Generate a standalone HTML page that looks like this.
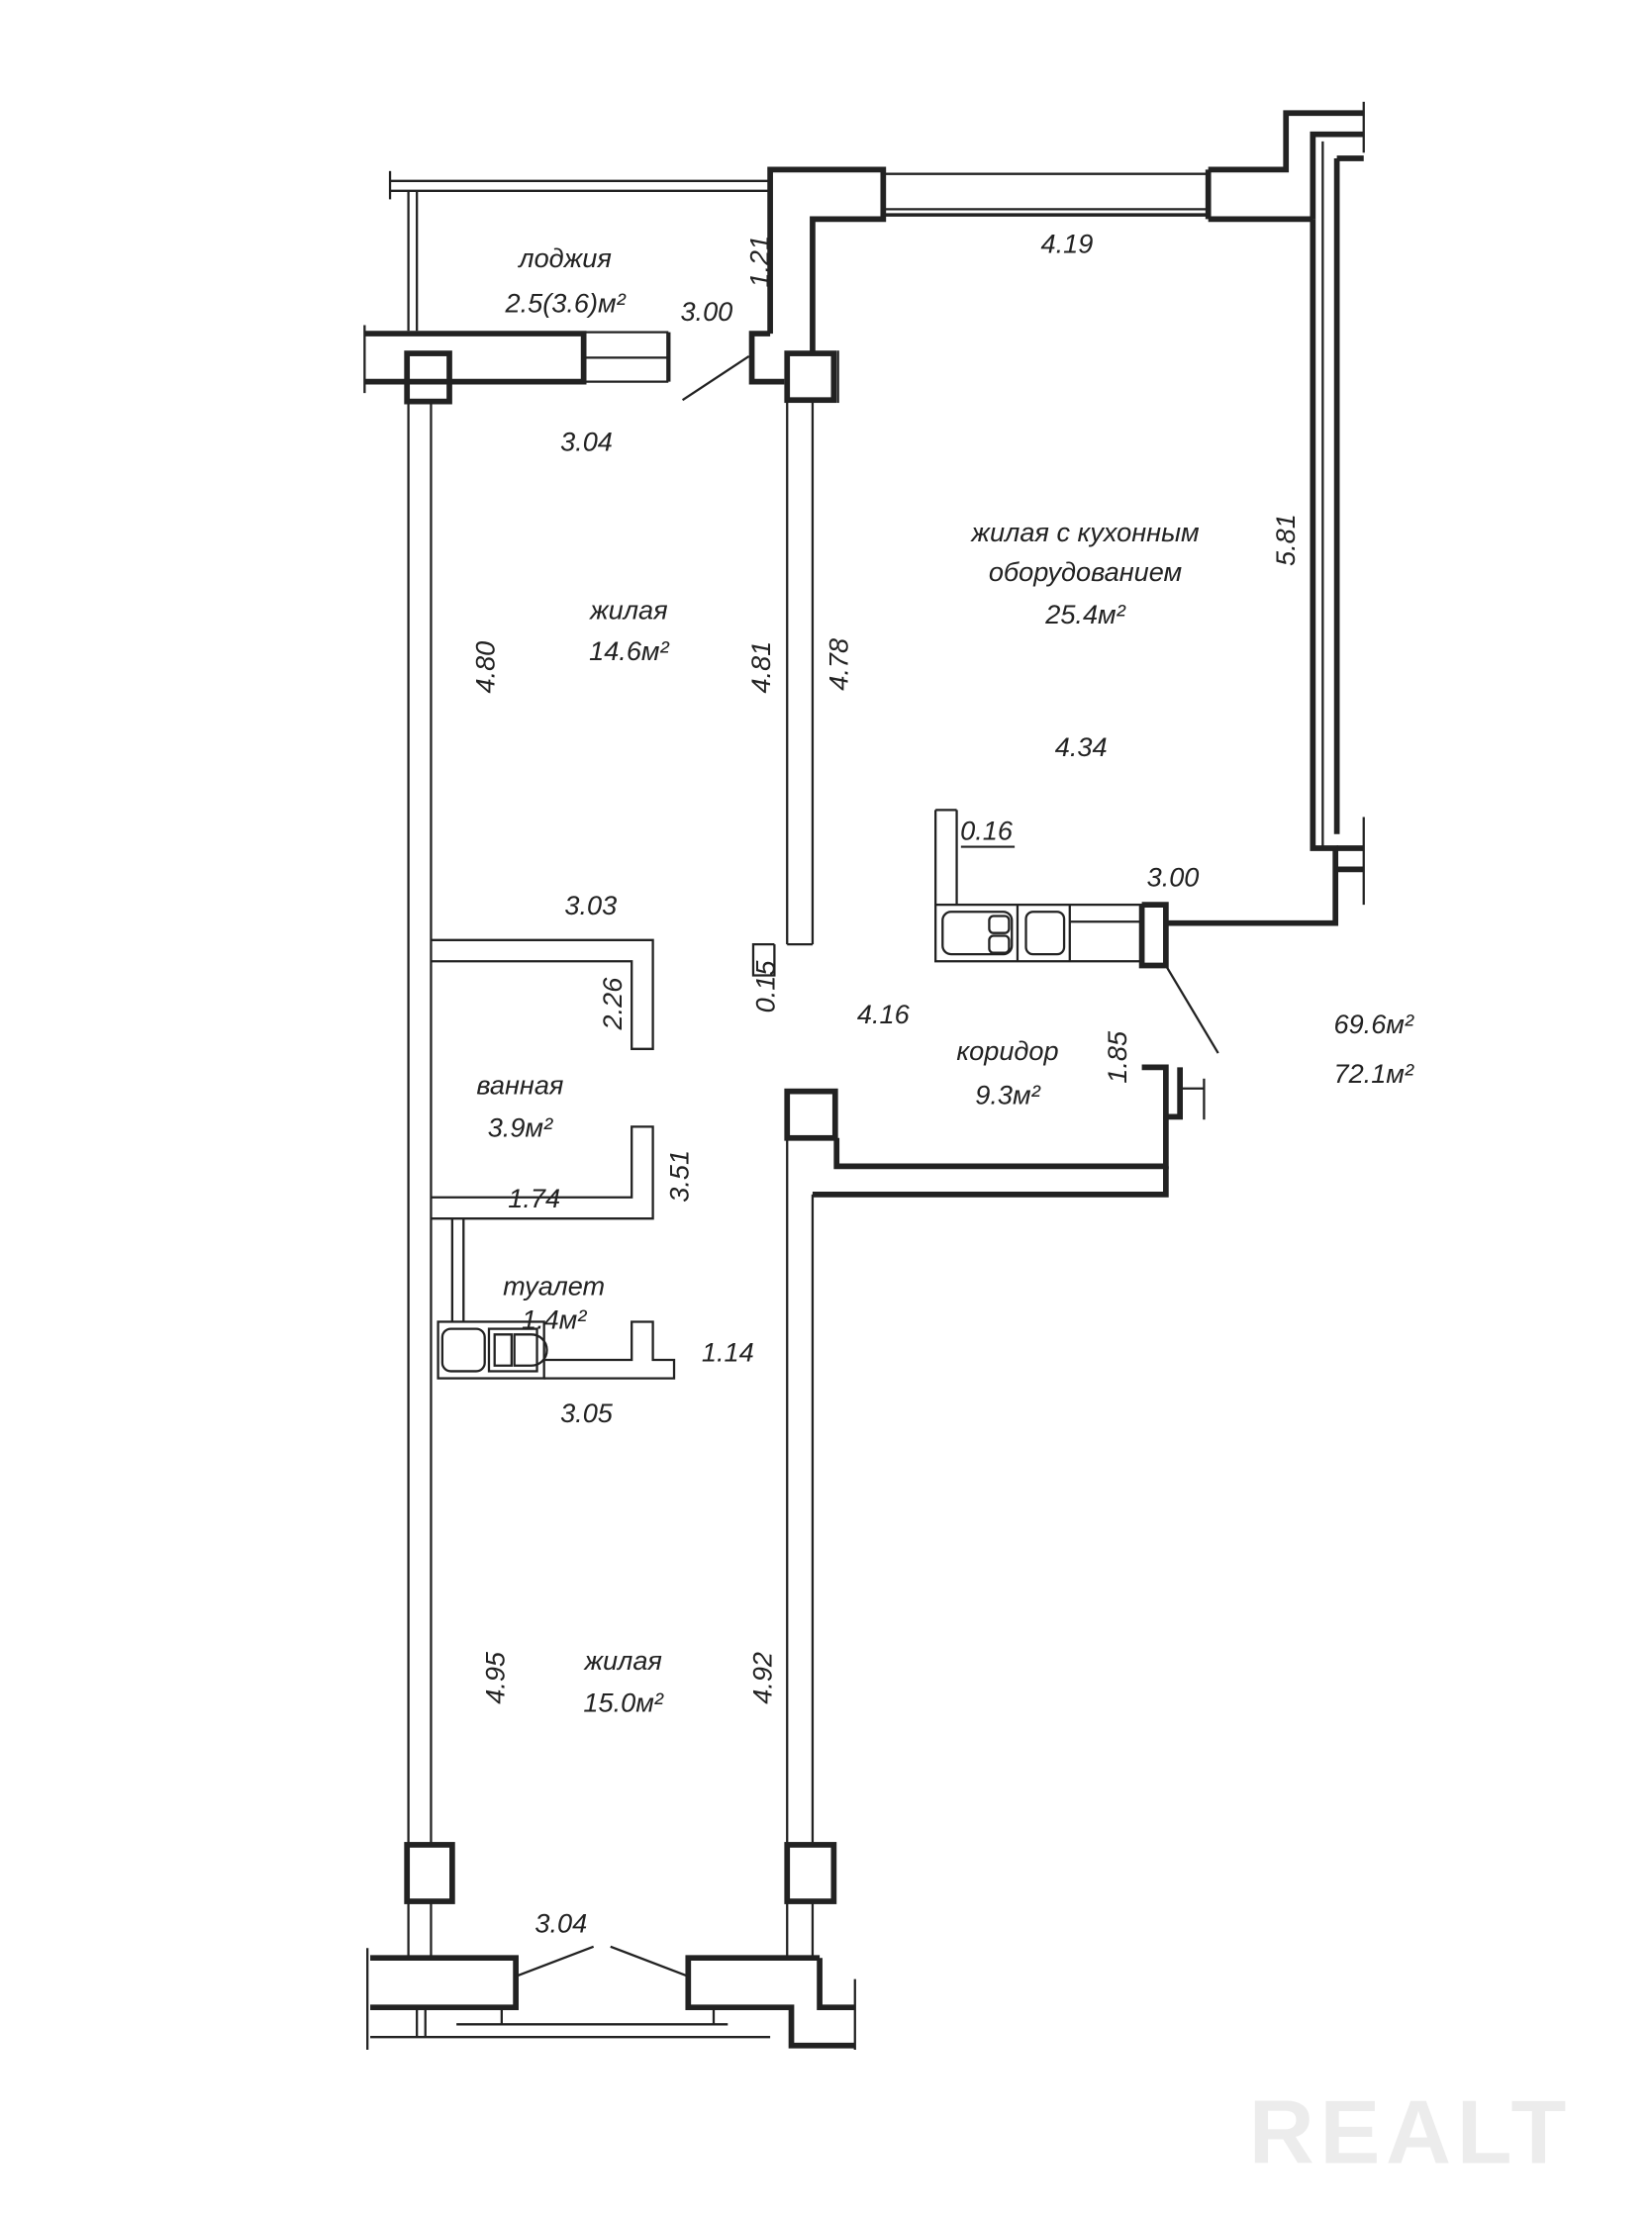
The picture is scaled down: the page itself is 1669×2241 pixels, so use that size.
<!DOCTYPE html>
<html><head><meta charset="utf-8"><style>
html,body{margin:0;padding:0;background:#fff}
svg{display:block}
text{font-family:"Liberation Sans",sans-serif;font-style:italic;font-size:19px;fill:#222}
</style></head><body>
<svg width="1669" height="2241" viewBox="0 0 1169 1569" preserveAspectRatio="none" xmlns="http://www.w3.org/2000/svg">
<g fill="none" stroke="#222" stroke-width="1.6">
<!-- loggia -->
<line x1="276" y1="121" x2="276" y2="141"/>
<line x1="276" y1="128" x2="545" y2="128"/>
<line x1="276" y1="135" x2="545" y2="135"/>
<line x1="289" y1="135" x2="289" y2="234"/>
<line x1="295" y1="135" x2="295" y2="234"/>
<line x1="258" y1="230" x2="258" y2="278"/>
<line x1="413" y1="235" x2="473" y2="235"/>
<line x1="413" y1="253" x2="473" y2="253"/>
<line x1="413" y1="270" x2="473" y2="270"/>
<line x1="473" y1="235" x2="473" y2="270" stroke-width="3"/>
<line x1="483" y1="283" x2="530" y2="252"/>
<!-- top window -->
<line x1="625" y1="123" x2="855" y2="123"/>
<line x1="625" y1="148" x2="855" y2="148"/>
<!-- right wall thin -->
<line x1="936" y1="100" x2="936" y2="600"/>
<line x1="965" y1="72" x2="965" y2="108"/>
<line x1="965" y1="578" x2="965" y2="640"/>
<!-- left outer wall -->
<line x1="289" y1="285" x2="289" y2="1305"/>
<line x1="305" y1="285" x2="305" y2="1305"/>
<line x1="289" y1="1345" x2="289" y2="1385"/>
<line x1="305" y1="1345" x2="305" y2="1385"/>
<!-- middle wall upper -->
<line x1="557" y1="283" x2="557" y2="668"/>
<line x1="575" y1="283" x2="575" y2="668"/>
<line x1="557" y1="668" x2="575" y2="668"/>
<line x1="593" y1="248" x2="593" y2="285"/>
<path d="M548 668 V690 H533 V668 H548"/>
<!-- middle wall lower -->
<line x1="557" y1="805" x2="557" y2="1305"/>
<line x1="575" y1="845" x2="575" y2="1305"/>
<line x1="557" y1="1345" x2="557" y2="1385"/>
<line x1="575" y1="1345" x2="575" y2="1385"/>
<!-- bathroom partitions -->
<path d="M305 665 H462 V742 H447 V680 H305"/>
<path d="M305 847 H447 V797 H462 V862 H305"/>
<line x1="320" y1="862" x2="320" y2="935"/>
<line x1="328" y1="862" x2="328" y2="935"/>
<path d="M385 962 H447 V935 H462 V962 H477 V975 H385"/>
<!-- fixtures -->
<rect x="310" y="935" width="75" height="40"/>
<rect x="313" y="940" width="30" height="30" rx="6"/>
<rect x="346" y="940" width="34" height="30"/>
<path d="M350 944 h12 v22 h-12 z M364 944 h12 a6 6 0 0 1 0 22 h-12 z"/>
<line x1="662" y1="573" x2="662" y2="640"/>
<line x1="677" y1="573" x2="677" y2="640"/>
<line x1="662" y1="573" x2="677" y2="573"/>
<rect x="662" y="640" width="146" height="40"/>
<line x1="720" y1="640" x2="720" y2="680"/>
<line x1="757" y1="640" x2="757" y2="680"/>
<rect x="667" y="645" width="49" height="30" rx="6"/>
<rect x="700" y="648" width="14" height="12" rx="3"/><rect x="700" y="662" width="14" height="12" rx="3"/>
<rect x="726" y="645" width="27" height="30" rx="5"/>
<line x1="757" y1="652" x2="808" y2="652"/>
<line x1="825" y1="683" x2="862" y2="745"/>
<!-- corridor right -->
<line x1="852" y1="763" x2="852" y2="792"/>
<line x1="835" y1="770" x2="852" y2="770"/>
<!-- bottom -->
<line x1="260" y1="1378" x2="260" y2="1450"/>
<line x1="262" y1="1441" x2="545" y2="1441"/>
<line x1="323" y1="1432" x2="515" y2="1432"/>
<line x1="295" y1="1420" x2="295" y2="1441"/>
<line x1="301" y1="1420" x2="301" y2="1441"/>
<line x1="505" y1="1420" x2="505" y2="1432"/>
<line x1="355" y1="1420" x2="355" y2="1432"/>
<line x1="605" y1="1400" x2="605" y2="1450"/>
<line x1="365" y1="1398" x2="420" y2="1377"/>
<line x1="432" y1="1377" x2="487" y2="1398"/>
</g>
<g fill="none" stroke="#222" stroke-width="4" stroke-linejoin="miter">
<path d="M258 236 H413 V270 H258"/>
<rect x="288" y="250" width="30" height="34"/>
<path d="M545 236 V120 H625 V155 H575 V250"/>
<path d="M545 236 H532 V270 H555"/>
<rect x="557" y="250" width="33" height="33"/>
<path d="M625 155 H625 M855 120 V155 M855 120 H910 V80 H965"/>
<line x1="855" y1="155" x2="929" y2="155"/>
<line x1="625" y1="152" x2="855" y2="152" stroke-width="2.5"/>
<path d="M929 155 V95 H965"/>
<path d="M929 155 V600 H945 V653 H825"/>
<path d="M946 112 H965 M946 112 V590 M946 600 H965 M946 615 H965"/>
<path d="M808 640 V683 H825 V640 H808"/>
<path d="M808 755 H825 V790 H835 V755"/>
<path d="M825 790 V825 H592 V805"/>
<path d="M575 845 H825 V825"/>
<rect x="557" y="772" width="34" height="33"/>
<rect x="288" y="1305" width="32" height="40"/>
<rect x="557" y="1305" width="33" height="40"/>
<path d="M262 1385 H365 V1420 H262"/>
<path d="M580 1385 H487 V1420 H560 V1447 H605 M580 1385 V1420 H605"/>
</g>
<g>
<text x="400" y="189" text-anchor="middle">лоджия</text>
<text x="400" y="221" text-anchor="middle">2.5(3.6)м²</text>
<text x="500" y="227" text-anchor="middle">3.00</text>
<text transform="translate(544,185) rotate(-90)" text-anchor="middle">1.21</text>
<text x="755" y="179" text-anchor="middle">4.19</text>
<text x="415" y="319" text-anchor="middle">3.04</text>
<text x="768" y="383" text-anchor="middle">жилая с кухонным</text>
<text x="768" y="411" text-anchor="middle">оборудованием</text>
<text x="768" y="441" text-anchor="middle">25.4м²</text>
<text transform="translate(916,382) rotate(-90)" text-anchor="middle">5.81</text>
<text x="445" y="438" text-anchor="middle">жилая</text>
<text x="445" y="467" text-anchor="middle">14.6м²</text>
<text transform="translate(350,472) rotate(-90)" text-anchor="middle">4.80</text>
<text transform="translate(545,472) rotate(-90)" text-anchor="middle">4.81</text>
<text transform="translate(600,470) rotate(-90)" text-anchor="middle">4.78</text>
<text x="765" y="535" text-anchor="middle">4.34</text>
<text x="698" y="594" text-anchor="middle">0.16</text>
<line x1="680" y1="599" x2="718" y2="599" stroke="#222" stroke-width="1.5"/>
<text x="830" y="627" text-anchor="middle">3.00</text>
<text x="418" y="647" text-anchor="middle">3.03</text>
<text transform="translate(440,710) rotate(-90)" text-anchor="middle">2.26</text>
<text transform="translate(548,698) rotate(-90)" text-anchor="middle">0.15</text>
<text x="625" y="724" text-anchor="middle">4.16</text>
<text x="713" y="750" text-anchor="middle">коридор</text>
<text x="713" y="781" text-anchor="middle">9.3м²</text>
<text transform="translate(797,748) rotate(-90)" text-anchor="middle">1.85</text>
<text x="972" y="731" text-anchor="middle">69.6м²</text>
<text x="972" y="766" text-anchor="middle">72.1м²</text>
<text x="368" y="774" text-anchor="middle">ванная</text>
<text x="368" y="804" text-anchor="middle">3.9м²</text>
<text transform="translate(487,832) rotate(-90)" text-anchor="middle">3.51</text>
<text x="378" y="854" text-anchor="middle">1.74</text>
<text x="392" y="916" text-anchor="middle">туалет</text>
<text x="392" y="940" text-anchor="middle">1.4м²</text>
<text x="515" y="963" text-anchor="middle">1.14</text>
<text x="415" y="1006" text-anchor="middle">3.05</text>
<text x="441" y="1181" text-anchor="middle">жилая</text>
<text x="441" y="1211" text-anchor="middle">15.0м²</text>
<text transform="translate(357,1187) rotate(-90)" text-anchor="middle">4.95</text>
<text transform="translate(546,1187) rotate(-90)" text-anchor="middle">4.92</text>
<text x="397" y="1367" text-anchor="middle">3.04</text>
<text x="998" y="1530" text-anchor="middle" style="font-style:normal;font-weight:bold;font-size:64px;fill:#ececec;letter-spacing:4px">REALT</text>
</g>
</svg>
</body></html>
